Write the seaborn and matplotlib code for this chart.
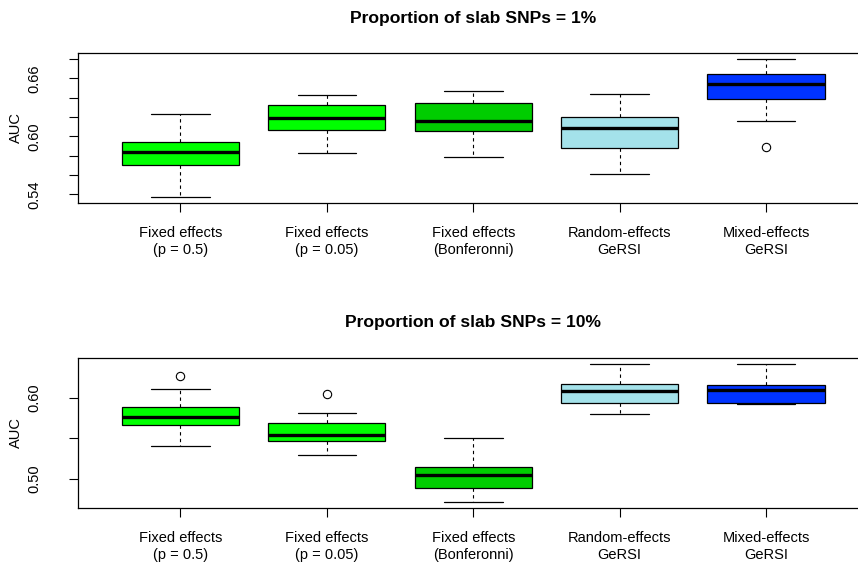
import numpy as np
import pandas as pd
import matplotlib
matplotlib.use("Agg")
import matplotlib.pyplot as plt
import seaborn as sns

sns.set_theme(style="white")
plt.rcParams['font.family'] = ['Liberation Sans', 'DejaVu Sans']
plt.rcParams['text.color'] = 'black'
plt.rcParams['axes.labelcolor'] = 'black'
plt.rcParams['xtick.color'] = 'black'
plt.rcParams['ytick.color'] = 'black'

categories = ["Fixed effects\n(p = 0.5)", "Fixed effects\n(p = 0.05)",
              "Fixed effects\n(Bonferonni)", "Random-effects\nGeRSI",
              "Mixed-effects\nGeRSI"]
colors = ["#00FF00", "#00FF00", "#00CD00", "#A4E2EA", "#0033FF"]

titles = ["Proportion of slab SNPs = 1%", "Proportion of slab SNPs = 10%"]

# Panel 1 (1%) five-number summaries and outliers
p1_low = [0.5372, 0.5828, 0.5783, 0.5607, 0.6157]
p1_q1 = [0.5700, 0.6066, 0.6056, 0.5880, 0.6384]
p1_med = [0.5835, 0.6190, 0.6160, 0.6087, 0.6540]
p1_q3 = [0.5945, 0.6329, 0.6343, 0.6200, 0.6650]
p1_high = [0.6235, 0.6426, 0.6474, 0.6440, 0.6805]
p1_out = [[], [], [], [], [0.589]]

# Panel 2 (10%)
p2_low = [0.5406, 0.5299, 0.4713, 0.5796, 0.5922]
p2_q1 = [0.5660, 0.5467, 0.4893, 0.5939, 0.5931]
p2_med = [0.5759, 0.5541, 0.5045, 0.6086, 0.6091]
p2_q3 = [0.5882, 0.5695, 0.5151, 0.6165, 0.6152]
p2_high = [0.6107, 0.5808, 0.5500, 0.6415, 0.6418]
p2_out = [[0.6263], [0.6050], [], [], []]

p1_yticks = [0.54, 0.56, 0.58, 0.60, 0.62, 0.64, 0.66, 0.68]
p1_ylabels = ["0.54", "", "", "0.60", "", "", "0.66", ""]
p2_yticks = [0.50, 0.55, 0.60]
p2_ylabels = ["0.50", "", "0.60"]


def build(low, q1, med, q3, high, out):
    rows = []
    for i, cat in enumerate(categories):
        vals = [low[i]] + [q1[i]] * 3 + [med[i]] * 3 + [q3[i]] * 3 + [high[i]] + out[i]
        for v in vals:
            rows.append((cat, v))
    return pd.DataFrame(rows, columns=["method", "AUC"])


df1 = build(p1_low, p1_q1, p1_med, p1_q3, p1_high, p1_out)
df2 = build(p2_low, p2_q1, p2_med, p2_q3, p2_high, p2_out)

W, H = 858, 565
fig = plt.figure(figsize=(W / 100, H / 100), dpi=100)
left_px, right_px = 78, 868.5
ax1 = fig.add_axes([left_px / W, 1 - 202.7 / H, (right_px - left_px) / W, (202.7 - 53.3) / H])
ax2 = fig.add_axes([left_px / W, 1 - 507.7 / H, (right_px - left_px) / W, (507.7 - 358.3) / H])

fs = 10.5
for ax, df, ylim, yt, yl, title, ty in [
    (ax1, df1, (0.5313, 0.6861), p1_yticks, p1_ylabels, titles[0], 19),
    (ax2, df2, (0.4647, 0.6485), p2_yticks, p2_ylabels, titles[1], 322),
]:
    sns.boxplot(data=df, x="method", y="AUC", hue="method", palette=colors,
                order=categories, hue_order=categories, legend=False,
                saturation=1, width=0.8, whis=1.5, linecolor="black", linewidth=0.9,
                medianprops={"color": "black", "linewidth": 2.4},
                whiskerprops={"color": "black", "linestyle": (0, (3, 3)), "linewidth": 0.8},
                capprops={"color": "black", "linewidth": 0.9},
                flierprops={"marker": "o", "markerfacecolor": "none",
                            "markeredgecolor": "black", "markersize": 6,
                            "markeredgewidth": 0.8},
                ax=ax)
    ax.set_xlim(-0.7, 4.7)
    ax.set_ylim(*ylim)
    ax.set_yticks(yt)
    ax.set_yticklabels(yl, rotation=90, va="center", fontsize=fs)
    ax.set_xticks(range(len(categories)))
    ax.set_xticklabels(categories, fontsize=fs, linespacing=1.22)
    ax.set_xlabel("")
    ax.set_ylabel("AUC", fontsize=fs, labelpad=3)
    ax.tick_params(axis="both", which="both", direction="out", length=6.5, width=0.8,
                   color="black", left=True, bottom=True)
    ax.tick_params(axis="y", pad=20)
    ax.tick_params(axis="x", pad=10.5)
    for s in ["left", "bottom", "top", "right"]:
        ax.spines[s].set_visible(True)
        ax.spines[s].set_color("black")
        ax.spines[s].set_linewidth(0.9)
    fig.text((left_px + right_px) / 2 / W, 1 - ty / H, title, ha="center", va="center",
             fontsize=12.6, fontweight="bold")

fig.savefig("out.png", dpi=100)
